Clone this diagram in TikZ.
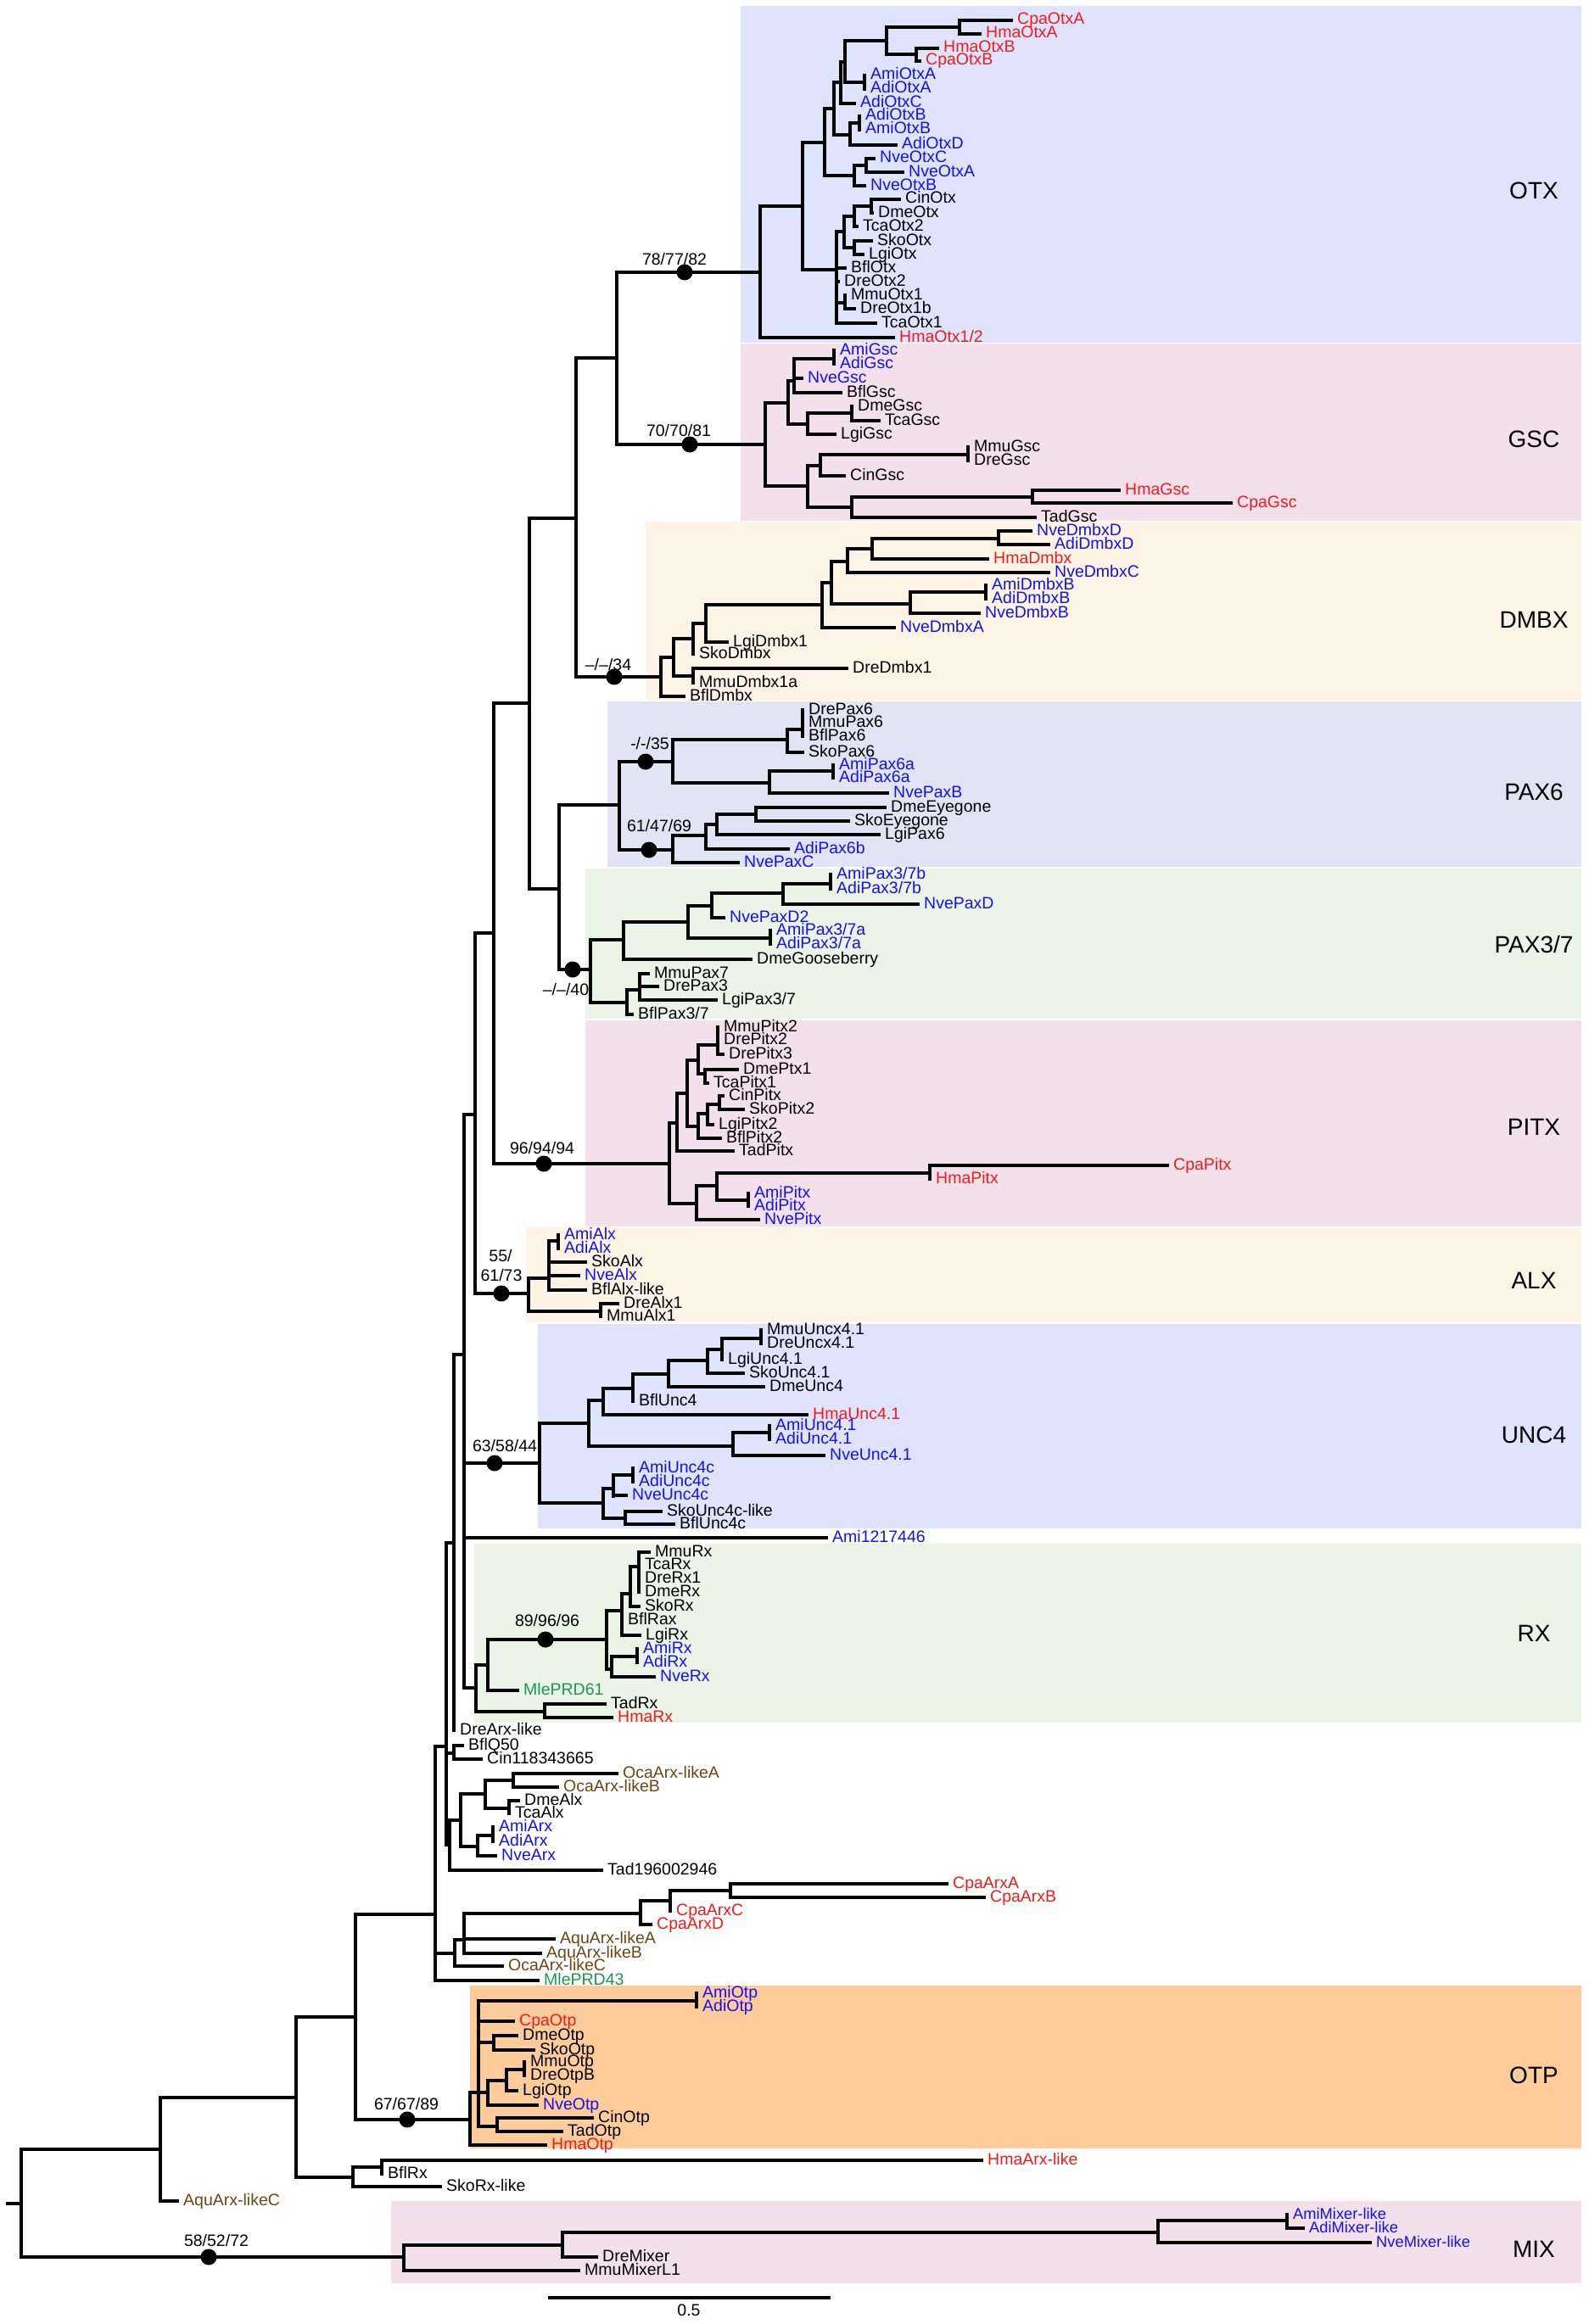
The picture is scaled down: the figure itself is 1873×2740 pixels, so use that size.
\documentclass[tikz,border=0pt]{standalone}
\usepackage{fontspec}
\setmainfont{Liberation Sans}
\definecolor{cblue}{HTML}{1212EE}
\definecolor{cred}{HTML}{EE1C1C}
\definecolor{cbrown}{HTML}{6E4513}
\definecolor{cgreen}{HTML}{1A9850}
\definecolor{bgBlue}{HTML}{DFE3FB}
\definecolor{bgPink}{HTML}{F3E0EA}
\definecolor{bgPeach}{HTML}{FDF4E6}
\definecolor{bgLav}{HTML}{E2E3F4}
\definecolor{bgGreen}{HTML}{EBF4E6}
\definecolor{bgOrange}{HTML}{FECB9A}
\tikzset{
  br/.style={line width=3.1pt, line cap=rect},
  lab/.style={anchor=base west, inner sep=0pt, xshift=7pt, yshift=-5pt, font=\fontsize{19.5}{23}\selectfont},
  cB/.style={text=cblue}, cR/.style={text=cred}, cN/.style={text=cbrown}, cG/.style={text=cgreen},
  sm/.style={font=\fontsize{18.3}{21}\selectfont},
  bst/.style={anchor=base, inner sep=0pt, font=\fontsize{19.5}{23}\selectfont},
  clade/.style={anchor=base, inner sep=0pt, yshift=-10pt, font=\fontsize{28}{32}\selectfont},
}
\newcount\lfn
\newcount\bsn
\newcommand\brV[3]{\draw[br] (#1,#2) -- (#1,#3);}
\newcommand\brH[3]{\draw[br] (#1,#3) -- (#2,#3);}
\newcommand\lf[5]{\draw[br] (#1,#3) -- (#2,#3);\global\advance\lfn by 1\relax\node[lab,#5] (leaf\the\lfn) at (#2,#3) {#4};}
\newcommand\bsup[5]{\fill (#1,#2) circle[radius=9.5pt];\global\advance\bsn by 1\relax\node[bst] (bs\the\bsn) at (#3,#4) {#5};}
\begin{document}
\begin{tikzpicture}[x=1pt,y=-1pt]
\useasboundingbox (0,0) rectangle (1873,2740);
\fill[white] (0,0) rectangle (1873,2740);
% backgrounds
\fill[bgBlue] (873,7) rectangle (1864,404);
\fill[bgPink] (873,405) rectangle (1864,614);
\fill[bgPeach] (762,615) rectangle (1864,826);
\fill[bgLav] (716,827) rectangle (1864,1022);
\fill[bgGreen] (690,1024) rectangle (1864,1201);
\fill[bgPink] (690,1203) rectangle (1864,1446);
\fill[bgPeach] (620,1447) rectangle (1864,1559);
\fill[bgBlue] (634,1561) rectangle (1864,1802);
\fill[bgGreen] (559,1820) rectangle (1864,2031);
\fill[bgOrange] (554,2341) rectangle (1864,2533);
\fill[bgPink] (461,2595) rectangle (1864,2692);
% clade labels
\node[clade] (kOTX) at (1808,224) {OTX};
\node[clade] (kGSC) at (1808,517) {GSC};
\node[clade] (kDMBX) at (1808,730) {DMBX};
\node[clade] (kPAX6) at (1808,933) {PAX6};
\node[clade] (kPAX37) at (1808,1113) {PAX3/7};
\node[clade] (kPITX) at (1808,1328) {PITX};
\node[clade] (kALX) at (1808,1509) {ALX};
\node[clade] (kUNC4) at (1808,1691) {UNC4};
\node[clade] (kRX) at (1808,1925) {RX};
\node[clade] (kOTP) at (1808,2446) {OTP};
\node[clade] (kMIX) at (1808,2651) {MIX};
% ===== backbone =====
\brH{9}{25}{2598}
\brV{25}{2534}{2661}
\brH{25}{189}{2534}
\brV{189}{2473}{2595}
\lf{189}{209}{2595}{AquArx-likeC}{cN}
\brH{189}{349}{2473}
\brV{349}{2378}{2567}
\brH{349}{416}{2567}
\brV{416}{2555}{2578}
\brH{416}{450}{2555}
\brV{450}{2547}{2563}
\lf{450}{1157}{2547}{HmaArx-like}{cR}
\lf{450}{450}{2563}{BflRx}{}
\lf{416}{519}{2578}{SkoRx-like}{}
\brH{349}{419}{2378}
\brV{419}{2257}{2499}
\brH{419}{554}{2499}
\bsup{480}{2499}{479}{2487}{67/67/89}
\brH{419}{513}{2257}
\brV{513}{2059}{2335}
\lf{513}{634}{2335}{MlePRD43}{cG}
\brH{513}{536}{2303}
\brV{536}{2287}{2318}
\lf{536}{592}{2318}{OcaArx-likeC}{cN}
\brH{536}{547}{2287}
\brV{547}{2256}{2303}
\lf{547}{653}{2286}{AquArx-likeA}{cN}
\lf{547}{637}{2303}{AquArx-likeB}{cN}
\brH{547}{755}{2256}
\brV{755}{2241}{2269}
\lf{755}{767}{2269}{CpaArxD}{cR}
\brH{755}{790}{2241}
\brV{790}{2229}{2253}
\lf{790}{790}{2253}{CpaArxC}{cR}
\brH{790}{861}{2229}
\brV{861}{2221}{2237}
\lf{861}{1116}{2221}{CpaArxA}{cR}
\lf{861}{1160}{2237}{CpaArxB}{cR}
\brH{513}{526}{2059}
\brV{526}{1819}{2175}
\brH{526}{530}{2175}
\brV{530}{2146}{2205}
\lf{530}{709}{2205}{Tad196002946}{}
\brH{530}{543}{2146}
\brV{543}{2115}{2177}
\brH{543}{572}{2115}
\brV{572}{2099}{2132}
\brH{572}{605}{2099}
\brV{605}{2091}{2107}
\lf{605}{727}{2091}{OcaArx-likeA}{cN}
\lf{605}{657}{2107}{OcaArx-likeB}{cN}
\brH{572}{600}{2132}
\brV{600}{2123}{2138}
\lf{600}{611}{2123}{DmeAlx}{}
\lf{600}{600}{2138}{TcaAlx}{}
\brH{543}{563}{2177}
\brV{563}{2164}{2188}
\brH{563}{581}{2164}
\brV{581}{2154}{2171}
\lf{581}{581}{2154}{AmiArx}{cB}
\lf{581}{581}{2171}{AdiArx}{cB}
\lf{563}{584}{2188}{NveArx}{cB}
\brH{526}{535}{2067}
\brV{535}{2058}{2074}
\lf{535}{545}{2058}{BflQ50}{}
\lf{535}{567}{2074}{Cin118343665}{}
\brH{526}{535}{1819}
\brV{535}{1597}{2040}
\lf{535}{535}{2040}{DreArx-like}{}
\brH{535}{547}{1597}
\brV{547}{1314}{1990}
\lf{547}{974}{1813}{Ami1217446}{cB}
\brH{547}{560}{1314}
\brV{560}{1100}{1525}
\brH{560}{582}{1100}
\brV{582}{829}{1372}
\brH{582}{624}{829}
\brV{624}{611}{1048}
\brH{624}{659}{1048}
\brV{659}{949}{1143}
\brH{624}{679}{611}
\brV{679}{422}{798}
\brH{679}{727}{422}
\brV{727}{321}{524}
% ===== OTX =====
\brH{727}{896}{321}
\bsup{807}{321}{795}{312}{78/77/82}
\brV{896}{243}{398}
\lf{896}{1053}{398}{HmaOtx1/2}{cR}
\brH{896}{946}{243}
\brV{946}{168}{318}
\brH{946}{986}{318}
\brV{986}{273}{381}
\brH{986}{995}{273}
\brV{995}{255}{292}
\brH{995}{1007}{255}
\brV{1007}{243}{267}
\brH{1007}{1027}{243}
\brV{1027}{235}{251}
\lf{1027}{1060}{235}{CinOtx}{}
\lf{1027}{1028}{251}{DmeOtx}{}
\lf{1007}{1010}{267}{TcaOtx2}{}
\brH{995}{1007}{292}
\brV{1007}{284}{300}
\lf{1007}{1027}{284}{SkoOtx}{}
\lf{1007}{1017}{300}{LgiOtx}{}
\lf{986}{996}{316}{BflOtx}{}
\lf{986}{988}{332}{DreOtx2}{}
\brH{986}{996}{357}
\brV{996}{348}{364}
\lf{996}{996}{348}{MmuOtx1}{}
\lf{996}{1007}{364}{DreOtx1b}{}
\lf{986}{1032}{381}{TcaOtx1}{}
\brH{946}{972}{168}
\brV{972}{128}{207}
\brH{972}{1007}{207}
\brV{1007}{195}{219}
\brH{1007}{1021}{195}
\brV{1021}{187}{203}
\lf{1021}{1030}{187}{NveOtxC}{cB}
\lf{1021}{1064}{203}{NveOtxA}{cB}
\lf{1007}{1019}{219}{NveOtxB}{cB}
\brH{972}{983}{128}
\brV{983}{97}{159}
\brH{983}{1002}{159}
\brV{1002}{145}{171}
\brH{1002}{1013}{145}
\brV{1013}{137}{153}
\lf{1013}{1013}{137}{AdiOtxB}{cB}
\lf{1013}{1013}{153}{AmiOtxB}{cB}
\lf{1002}{1056}{171}{AdiOtxD}{cB}
\brH{983}{991}{97}
\brV{991}{73}{122}
\lf{991}{1007}{122}{AdiOtxC}{cB}
\brH{991}{996}{73}
\brV{996}{48}{97}
\brH{996}{1019}{97}
\brV{1019}{89}{105}
\lf{1019}{1019}{89}{AmiOtxA}{cB}
\lf{1019}{1019}{105}{AdiOtxA}{cB}
\brH{996}{1045}{48}
\brV{1045}{32}{64}
\brH{1045}{1131}{32}
\brV{1131}{24}{40}
\lf{1131}{1192}{24}{CpaOtxA}{cR}
\lf{1131}{1155}{40}{HmaOtxA}{cR}
\brH{1045}{1080}{64}
\brV{1080}{57}{72}
\lf{1080}{1105}{57}{HmaOtxB}{cR}
\lf{1080}{1084}{72}{CpaOtxB}{cR}
% ===== GSC =====
\brH{727}{902}{524}
\bsup{813}{524}{800}{514}{70/70/81}
\brV{902}{475}{573}
\brH{902}{929}{475}
\brV{929}{449}{500}
\brH{929}{936}{449}
\brV{936}{423}{463}
\brH{936}{983}{423}
\brV{983}{413}{429}
\lf{983}{983}{413}{AmiGsc}{cB}
\lf{983}{983}{429}{AdiGsc}{cB}
\lf{936}{945}{446}{NveGsc}{cB}
\lf{936}{991}{463}{BflGsc}{}
\brH{929}{952}{500}
\brV{952}{487}{512}
\brH{952}{1004}{487}
\brV{1004}{479}{496}
\lf{1004}{1004}{479}{DmeGsc}{}
\lf{1004}{1036}{496}{TcaGsc}{}
\lf{952}{984}{512}{LgiGsc}{}
\brH{902}{952}{573}
\brV{952}{549}{598}
\brH{952}{967}{549}
\brV{967}{536}{561}
\brH{967}{1141}{536}
\brV{1141}{527}{543}
\lf{1141}{1141}{527}{MmuGsc}{}
\lf{1141}{1141}{543}{DreGsc}{}
\lf{967}{995}{561}{CinGsc}{}
\brH{952}{1004}{598}
\brV{1004}{586}{610}
\brH{1004}{1217}{586}
\brV{1217}{578}{593}
\lf{1217}{1319}{578}{HmaGsc}{cR}
\lf{1217}{1451}{593}{CpaGsc}{cR}
\lf{1004}{1220}{610}{TadGsc}{}
% ===== DMBX =====
\brH{679}{779}{798}
\bsup{724}{798}{717}{790}{\textendash/\textendash/34}
\brV{779}{775}{821}
\lf{779}{806}{821}{BflDmbx}{}
\brH{779}{794}{775}
\brV{794}{753}{797}
\brH{794}{817}{797}
\brV{817}{788}{805}
\lf{817}{998}{788}{DreDmbx1}{}
\lf{817}{817}{805}{MmuDmbx1a}{}
\brH{794}{817}{753}
\brV{817}{735}{771}
\lf{817}{817}{771}{SkoDmbx}{}
\brH{817}{832}{735}
\brV{832}{713}{757}
\lf{832}{857}{757}{LgiDmbx1}{}
\brH{832}{969}{713}
\brV{969}{687}{740}
\lf{969}{1054}{740}{NveDmbxA}{cB}
\brH{969}{980}{687}
\brV{980}{662}{712}
\brH{980}{1073}{712}
\brV{1073}{698}{723}
\brH{1073}{1162}{698}
\brV{1162}{690}{706}
\lf{1162}{1162}{690}{AmiDmbxB}{cB}
\lf{1162}{1162}{706}{AdiDmbxB}{cB}
\lf{1073}{1154}{723}{NveDmbxB}{cB}
\brH{980}{999}{662}
\brV{999}{647}{675}
\lf{999}{1236}{675}{NveDmbxC}{cB}
\brH{999}{1028}{647}
\brV{1028}{635}{659}
\lf{1028}{1164}{659}{HmaDmbx}{cR}
\brH{1028}{1177}{635}
\brV{1177}{626}{642}
\lf{1177}{1215}{626}{NveDmbxD}{cB}
\lf{1177}{1236}{642}{AdiDmbxD}{cB}
% ===== PAX6 =====
\brH{659}{730}{949}
\brV{730}{898}{1002}
\brH{730}{793}{898}
\bsup{761}{898}{766}{883}{-/-/35}
\brV{793}{872}{923}
\brH{793}{928}{872}
\brV{928}{860}{887}
\brH{928}{946}{860}
\brV{946}{837}{868}
\lf{946}{946}{837}{DrePax6}{}
\lf{946}{946}{852}{MmuPax6}{}
\lf{946}{946}{868}{BflPax6}{}
\lf{928}{946}{887}{SkoPax6}{}
\brH{793}{907}{923}
\brV{907}{909}{935}
\brH{907}{982}{909}
\brV{982}{902}{917}
\lf{982}{982}{902}{AmiPax6a}{cB}
\lf{982}{982}{917}{AdiPax6a}{cB}
\lf{907}{1046}{935}{NvePaxB}{cB}
\brH{730}{793}{1002}
\bsup{765}{1002}{777}{980}{61/47/69}
\brV{793}{985}{1017}
\lf{793}{870}{1017}{NvePaxC}{cB}
\brH{793}{832}{985}
\brV{832}{972}{1001}
\lf{832}{929}{1001}{AdiPax6b}{cB}
\brH{832}{845}{972}
\brV{845}{960}{984}
\lf{845}{1036}{984}{LgiPax6}{}
\brH{845}{891}{960}
\brV{891}{952}{968}
\lf{891}{1043}{952}{DmeEyegone}{}
\lf{891}{1000}{968}{SkoEyegone}{}
% ===== PAX3/7 =====
\brH{659}{696}{1143}
\bsup{675}{1143}{667}{1173}{\textendash/\textendash/40}
\brV{696}{1108}{1182}
\brH{696}{735}{1108}
\brV{735}{1087}{1131}
\lf{735}{885}{1131}{DmeGooseberry}{}
\brH{735}{811}{1087}
\brV{811}{1068}{1106}
\brH{811}{908}{1106}
\brV{908}{1097}{1113}
\lf{908}{908}{1097}{AmiPax3/7a}{cB}
\lf{908}{908}{1113}{AdiPax3/7a}{cB}
\brH{811}{839}{1068}
\brV{839}{1053}{1082}
\lf{839}{853}{1082}{NvePaxD2}{cB}
\brH{839}{923}{1053}
\brV{923}{1042}{1066}
\brH{923}{979}{1042}
\brV{979}{1031}{1048}
\lf{979}{979}{1031}{AmiPax3/7b}{cB}
\lf{979}{979}{1048}{AdiPax3/7b}{cB}
\lf{923}{1082}{1066}{NvePaxD}{cB}
\brH{696}{739}{1182}
\brV{739}{1167}{1196}
\lf{739}{745}{1196}{BflPax3/7}{}
\brH{739}{754}{1167}
\brV{754}{1148}{1179}
\lf{754}{764}{1148}{MmuPax7}{}
\lf{754}{775}{1163}{DrePax3}{}
\lf{754}{844}{1179}{LgiPax3/7}{}
% ===== PITX =====
\brH{582}{789}{1372}
\bsup{641}{1372}{639}{1360}{96/94/94}
\brV{789}{1324}{1419}
\brH{789}{798}{1324}
\brV{798}{1289}{1357}
\lf{798}{864}{1357}{TadPitx}{}
\brH{798}{810}{1289}
\brV{810}{1250}{1328}
\brH{810}{823}{1250}
\brV{823}{1232}{1266}
\brH{823}{846}{1232}
\brV{846}{1211}{1243}
\lf{846}{846}{1211}{MmuPitx2}{}
\lf{846}{846}{1226}{DrePitx2}{}
\lf{846}{852}{1243}{DrePitx3}{}
\brH{823}{831}{1266}
\brV{831}{1261}{1277}
\lf{831}{869}{1261}{DmePtx1}{}
\lf{831}{834}{1277}{TcaPitx1}{}
\brH{810}{823}{1328}
\brV{823}{1313}{1342}
\lf{823}{849}{1342}{BflPitx2}{}
\brH{823}{834}{1313}
\brV{834}{1302}{1326}
\lf{834}{840}{1326}{LgiPitx2}{}
\brH{834}{848}{1302}
\brV{848}{1292}{1308}
\lf{848}{852}{1292}{CinPitx}{}
\lf{848}{876}{1308}{SkoPitx2}{}
\brH{789}{821}{1419}
\brV{821}{1398}{1438}
\lf{821}{894}{1438}{NvePitx}{cB}
\brH{821}{845}{1398}
\brV{845}{1383}{1415}
\brH{845}{882}{1415}
\brV{882}{1407}{1422}
\lf{882}{882}{1407}{AmiPitx}{cB}
\lf{882}{882}{1422}{AdiPitx}{cB}
\brH{845}{1096}{1383}
\brV{1096}{1374}{1390}
\lf{1096}{1376}{1374}{CpaPitx}{cR}
\lf{1096}{1096}{1390}{HmaPitx}{cR}
% ===== ALX =====
\brH{560}{623}{1525}
\bsup{591}{1525}{590}{1487}{55/}
\node[bst] (bsALX) at (591,1510) {61/73};
\brV{623}{1507}{1546}
\brH{623}{647}{1507}
\brV{647}{1463}{1521}
\brH{647}{658}{1463}
\brV{658}{1456}{1472}
\lf{658}{658}{1456}{AmiAlx}{cB}
\lf{658}{658}{1472}{AdiAlx}{cB}
\lf{647}{690}{1488}{SkoAlx}{}
\lf{647}{682}{1504}{NveAlx}{cB}
\lf{647}{690}{1521}{BflAlx-like}{}
\brH{623}{708}{1546}
\brV{708}{1537}{1552}
\lf{708}{728}{1537}{DreAlx1}{}
\lf{708}{708}{1552}{MmuAlx1}{}
% ===== UNC4 =====
\brH{547}{636}{1725}
\bsup{583}{1725}{595}{1711}{63/58/44}
\brV{636}{1678}{1772}
\brH{636}{694}{1678}
\brV{694}{1651}{1705}
\brH{694}{711}{1651}
\brV{711}{1637}{1668}
\lf{711}{951}{1668}{HmaUnc4.1}{cR}
\brH{711}{746}{1637}
\brV{746}{1620}{1652}
\lf{746}{746}{1652}{BflUnc4}{}
\brH{746}{788}{1620}
\brV{788}{1604}{1635}
\lf{788}{900}{1635}{DmeUnc4}{}
\brH{788}{834}{1604}
\brV{834}{1591}{1619}
\lf{834}{876}{1619}{SkoUnc4.1}{}
\brH{834}{851}{1591}
\brV{851}{1578}{1603}
\lf{851}{851}{1603}{LgiUnc4.1}{}
\brH{851}{897}{1578}
\brV{897}{1568}{1584}
\lf{897}{897}{1568}{MmuUncx4.1}{}
\lf{897}{897}{1584}{DreUncx4.1}{}
\brH{694}{864}{1705}
\brV{864}{1689}{1716}
\brH{864}{907}{1689}
\brV{907}{1681}{1697}
\lf{907}{907}{1681}{AmiUnc4.1}{cB}
\lf{907}{907}{1697}{AdiUnc4.1}{cB}
\lf{864}{971}{1716}{NveUnc4.1}{cB}
\brH{636}{711}{1772}
\brV{711}{1755}{1790}
\brH{711}{723}{1755}
\brV{723}{1739}{1764}
\brH{723}{746}{1739}
\brV{746}{1731}{1747}
\lf{746}{746}{1731}{AmiUnc4c}{cB}
\lf{746}{746}{1747}{AdiUnc4c}{cB}
\lf{723}{738}{1763}{NveUnc4c}{cB}
\brH{711}{737}{1790}
\brV{737}{1782}{1797}
\lf{737}{779}{1782}{SkoUnc4c-like}{}
\lf{737}{794}{1797}{BflUnc4c}{}
% ===== RX =====
\brH{547}{561}{1990}
\brV{561}{1963}{2018}
\brH{561}{575}{1963}
\brV{575}{1933}{1993}
\lf{575}{610}{1993}{MlePRD61}{cG}
\brH{575}{715}{1933}
\bsup{643}{1933}{645}{1917}{89/96/96}
\brV{715}{1899}{1968}
\brH{715}{733}{1899}
\brV{733}{1879}{1928}
\lf{733}{754}{1928}{LgiRx}{}
\lf{733}{733}{1910}{BflRax}{}
\brH{733}{743}{1879}
\brV{743}{1847}{1894}
\lf{743}{753}{1894}{SkoRx}{}
\brH{743}{753}{1847}
\brV{753}{1830}{1877}
\lf{753}{765}{1830}{MmuRx}{}
\lf{753}{753}{1845}{TcaRx}{}
\lf{753}{753}{1861}{DreRx1}{}
\lf{753}{753}{1877}{DmeRx}{}
\brH{715}{721}{1968}
\brV{721}{1953}{1977}
\brH{721}{751}{1953}
\brV{751}{1944}{1960}
\lf{751}{751}{1944}{AmiRx}{cB}
\lf{751}{751}{1960}{AdiRx}{cB}
\lf{721}{771}{1977}{NveRx}{cB}
\brH{561}{642}{2018}
\brV{642}{2009}{2025}
\lf{642}{713}{2009}{TadRx}{}
\lf{642}{721}{2025}{HmaRx}{cR}
% ===== OTP =====
\brV{554}{2467}{2529}
\lf{554}{643}{2529}{HmaOtp}{cR}
\brH{554}{575}{2467}
\brV{564}{2359}{2507}
\brH{564}{821}{2359}
\brV{821}{2350}{2366}
\lf{821}{821}{2350}{AmiOtp}{cB}
\lf{821}{821}{2366}{AdiOtp}{cB}
\lf{564}{605}{2383}{CpaOtp}{cR}
\brH{564}{582}{2408}
\brV{582}{2400}{2417}
\lf{582}{609}{2400}{DmeOtp}{}
\lf{582}{629}{2417}{SkoOtp}{}
\brV{575}{2453}{2482}
\lf{575}{633}{2482}{NveOtp}{cB}
\brH{575}{597}{2453}
\brV{597}{2440}{2465}
\brH{597}{618}{2440}
\brV{618}{2431}{2447}
\lf{618}{618}{2431}{MmuOtp}{}
\lf{618}{618}{2447}{DreOtpB}{}
\lf{597}{609}{2465}{LgiOtp}{}
\brH{564}{586}{2507}
\brV{586}{2497}{2513}
\lf{586}{698}{2497}{CinOtp}{}
\lf{586}{662}{2513}{TadOtp}{}
% ===== MIX =====
\brH{25}{476}{2661}
\bsup{246}{2661}{255}{2648}{58/52/72}
\brV{476}{2647}{2677}
\lf{476}{682}{2677}{MmuMixerL1}{}
\brH{476}{663}{2647}
\brV{663}{2632}{2661}
\lf{663}{703}{2661}{DreMixer}{}
\brH{663}{1365}{2632}
\brV{1365}{2618}{2644}
\lf{1365}{1615}{2644}{NveMixer-like}{cB,sm}
\brH{1365}{1517}{2618}
\brV{1517}{2611}{2627}
\lf{1517}{1517}{2611}{AmiMixer-like}{cB,sm}
\lf{1517}{1536}{2627}{AdiMixer-like}{cB,sm}
% scale bar
\draw[line width=3.2pt] (646,2709) coordinate (sb1) -- (979,2709) coordinate (sb2);
\node[bst] (sbl) at (812,2730) {0.5};
\end{tikzpicture}
\end{document}
